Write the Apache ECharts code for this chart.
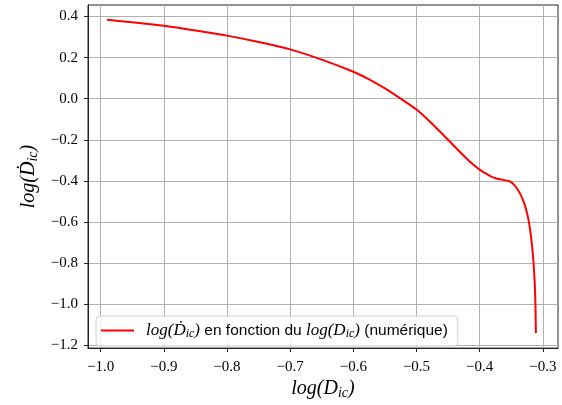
<!DOCTYPE html>
<html>
<head>
<meta charset="utf-8">
<script src="https://cdn.jsdelivr.net/npm/echarts@6/dist/echarts.min.js"></script>
<style>
html,body{margin:0;padding:0;background:#fff;}
#chart{width:562px;height:405px;}
</style>
</head>
<body>
<div id="chart"></div>
<script>
// Data
const xVals = [-0.99, -0.95, -0.9, -0.85, -0.8, -0.75, -0.7, -0.65, -0.6, -0.575, -0.55, -0.525, -0.5, -0.475, -0.45, -0.43, -0.417, -0.405, -0.4, -0.39, -0.3825, -0.375, -0.365, -0.352, -0.344, -0.336, -0.33, -0.326, -0.323, -0.3205, -0.318, -0.316, -0.3145, -0.313, -0.312, -0.3115, -0.311];
const yVals = [0.384, 0.372, 0.355, 0.332, 0.307, 0.276, 0.240, 0.190, 0.131, 0.094, 0.050, 0.000, -0.053, -0.123, -0.200, -0.263, -0.302, -0.334, -0.345, -0.365, -0.378, -0.387, -0.394, -0.403, -0.424, -0.462, -0.505, -0.545, -0.585, -0.630, -0.690, -0.750, -0.810, -0.890, -0.970, -1.040, -1.140];
const xTicks = [-1.0, -0.9, -0.8, -0.7, -0.6, -0.5, -0.4, -0.3];
const yTicks = [-1.2, -1.0, -0.8, -0.6, -0.4, -0.2, 0.0, 0.2, 0.4];
const seriesName = 'numerique';

const fmt = v => (v < -1e-9 ? '\u2212' : '') + Math.abs(v).toFixed(1);
const serif = 'Liberation Serif';
const mathRich = {
  m: {fontFamily: serif, fontStyle: 'italic', fontSize: 20, lineHeight: 22, color: '#000'},
  s: {fontFamily: serif, fontStyle: 'italic', fontSize: 14, lineHeight: 13, verticalAlign: 'bottom', color: '#000'}
};

const chart = echarts.init(document.getElementById('chart'), null, {renderer: 'canvas'});
chart.setOption({
  animation: false,
  backgroundColor: '#fff',
  grid: {left: 88, right: 4, top: 5, bottom: 52, show: true, borderColor: '#222', borderWidth: 1, containLabel: false},
  xAxis: {
    type: 'value', min: -1.02, max: -0.276,
    axisLine: {show: true, onZero: false, lineStyle: {color: '#222', width: 1}},
    axisTick: {show: true, inside: false, length: 4, customValues: xTicks, lineStyle: {color: '#222'}},
    axisLabel: {customValues: xTicks, formatter: fmt, margin: 11, fontFamily: serif, fontSize: 15, color: '#000'},
    splitLine: {show: true, lineStyle: {color: '#b0b0b0', width: 1}},
    name: '{m|log(D}{s|ic}{m|)}',
    nameLocation: 'middle', nameGap: 26,
    nameTextStyle: {rich: mathRich}
  },
  yAxis: {
    type: 'value', min: -1.214, max: 0.456,
    axisLine: {show: true, onZero: false, lineStyle: {color: '#222', width: 1}},
    axisTick: {show: true, inside: false, length: 4, customValues: yTicks, lineStyle: {color: '#222'}},
    axisLabel: {customValues: yTicks, formatter: fmt, margin: 10, fontFamily: serif, fontSize: 15, color: '#000'},
    splitLine: {show: true, lineStyle: {color: '#b0b0b0', width: 1}},
    name: '{m|log(\u1E0A}{s|ic}{m|)}',
    nameLocation: 'middle', nameGap: 48, nameRotate: 90,
    nameTextStyle: {rich: mathRich}
  },
  legend: {
    show: true,
    left: 96, top: 316,
    orient: 'horizontal',
    padding: [6, 10, 6, 5],
    backgroundColor: 'rgba(255,255,255,0.85)',
    borderColor: '#d0d0d0', borderWidth: 1, borderRadius: 4,
    itemWidth: 33, itemHeight: 2,
    icon: 'rect',
    data: [seriesName],
    formatter: () => '{m|log(\u1E0A}{s|ic}{m|)} en fonction du {m|log(D}{s|ic}{m|)} (num\u00e9rique)',
    textStyle: {
      fontFamily: 'Liberation Sans', fontSize: 15.5, color: '#000', padding: [0, 0, 0, 7],
      rich: {
        m: {fontFamily: serif, fontStyle: 'italic', fontSize: 17, lineHeight: 19, color: '#000'},
        s: {fontFamily: serif, fontStyle: 'italic', fontSize: 12, lineHeight: 11, verticalAlign: 'bottom', color: '#000'}
      }
    }
  },
  series: [{
    name: seriesName,
    type: 'line',
    data: xVals.map((x, i) => [x, yVals[i]]),
    showSymbol: false, symbol: 'none',
    smooth: 0.3,
    lineStyle: {color: '#ff0000', width: 2},
    itemStyle: {color: '#ff0000'}
  }]
});
</script>
</body>
</html>
